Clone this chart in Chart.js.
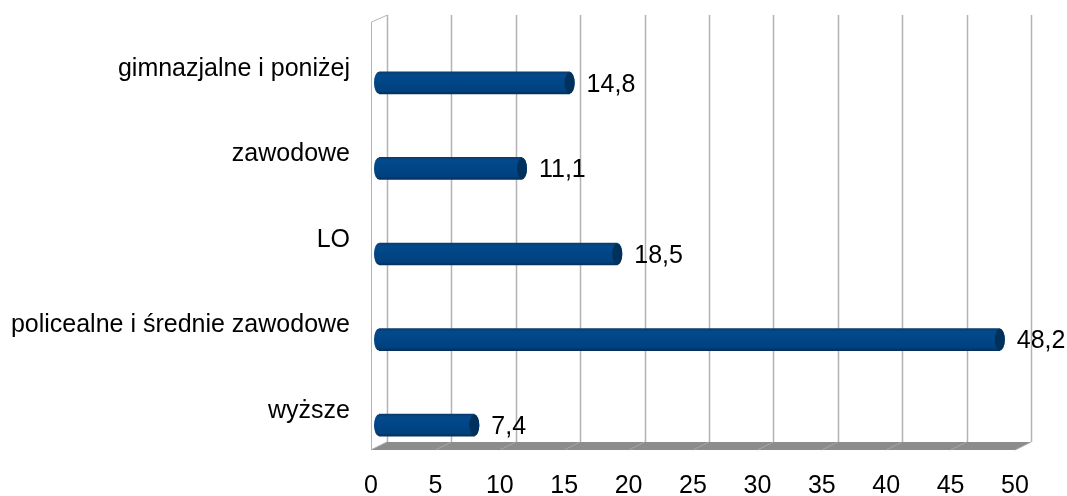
<!DOCTYPE html>
<html>
<head>
<meta charset="utf-8">
<script src="https://cdn.jsdelivr.net/npm/chart.js@4/dist/chart.umd.min.js"></script>
<style>
  html, body { margin: 0; padding: 0; background: #ffffff; }
  #wrap { width: 1067px; height: 496px; position: relative; }
</style>
</head>
<body>
<div id="wrap"><canvas id="c" width="1067" height="496"></canvas></div>
<script>
const categories = ['gimnazjalne i poniżej', 'zawodowe', 'LO', 'policealne i średnie zawodowe', 'wyższe'];
const values = [14.8, 11.1, 18.5, 48.2, 7.4];
const xTicks = [0, 5, 10, 15, 20, 25, 30, 35, 40, 45, 50];

const FONT = '"Liberation Sans", Arial, sans-serif';
const DEPTH = 8;      // half depth of pseudo-3D box (px)
const RISE = 7;       // vertical rise of back plane
const CAP = 5;        // horizontal radius of cylinder end caps

const fmt = v => String(v).replace('.', ',');

function barGradient(ctx, y, h) {
  const g = ctx.createLinearGradient(0, y - h, 0, y + h);
  g.addColorStop(0, '#0b3b6c');
  g.addColorStop(0.14, '#034a8c');
  g.addColorStop(0.5, '#004586');
  g.addColorStop(0.86, '#00417e');
  g.addColorStop(1, '#03305c');
  return g;
}

const backdrop = {
  id: 'backdrop',
  beforeDatasetsDraw(chart) {
    const ctx = chart.ctx;
    const xs = chart.scales.x;
    const top = 15, floorBack = 442, floorFront = 450;
    const x0 = xs.getPixelForValue(xTicks[0]);
    const xN = xs.getPixelForValue(xTicks[xTicks.length - 1]);
    ctx.save();
    // floor
    ctx.fillStyle = '#8c8c8c';
    ctx.beginPath();
    ctx.moveTo(x0 + DEPTH, floorBack);
    ctx.lineTo(xN + DEPTH, floorBack);
    ctx.lineTo(xN - DEPTH, floorFront);
    ctx.lineTo(x0 - DEPTH, floorFront);
    ctx.closePath();
    ctx.fill();
    // floor grid lines
    ctx.strokeStyle = '#a6a6a6';
    ctx.lineWidth = 1;
    xTicks.forEach(v => {
      const X = xs.getPixelForValue(v);
      ctx.beginPath();
      ctx.moveTo(X + DEPTH, floorBack);
      ctx.lineTo(X - DEPTH, floorFront);
      ctx.stroke();
    });
    // back wall grid lines
    ctx.strokeStyle = '#b3b3b3';
    ctx.lineWidth = 1.5;
    xTicks.forEach(v => {
      const X = Math.round(xs.getPixelForValue(v) + DEPTH) + 0.5;
      ctx.beginPath();
      ctx.moveTo(X, top);
      ctx.lineTo(X, floorBack);
      ctx.stroke();
    });
    // left side wall
    ctx.lineWidth = 1;
    ctx.strokeStyle = '#b3b3b3';
    ctx.beginPath();
    ctx.moveTo(Math.round(x0 - DEPTH) + 0.5, floorFront);
    ctx.lineTo(Math.round(x0 - DEPTH) + 0.5, top + RISE);
    ctx.lineTo(Math.round(x0 + DEPTH) + 0.5, top);
    ctx.stroke();
    ctx.restore();
  },
  afterDatasetsDraw(chart) {
    const ctx = chart.ctx;
    const meta = chart.getDatasetMeta(0);
    ctx.save();
    meta.data.forEach((el, i) => {
      const p = el.getProps(['x', 'y', 'base', 'height'], true);
      const h = p.height / 2;
      const gl = barGradient(ctx, p.y, h);
      // left rounded end
      ctx.fillStyle = gl;
      ctx.beginPath();
      ctx.ellipse(p.base, p.y, CAP, h, 0, Math.PI / 2, Math.PI * 1.5);
      ctx.closePath();
      ctx.fill();
      // right end cap
      ctx.beginPath();
      ctx.ellipse(p.x, p.y, CAP, h, 0, -Math.PI / 2, Math.PI / 2);
      ctx.closePath();
      ctx.fill();
      ctx.beginPath();
      ctx.ellipse(p.x, p.y, CAP, h - 0.5, 0, 0, Math.PI * 2);
      ctx.fillStyle = '#00305c';
      ctx.fill();
      // value label
      ctx.fillStyle = '#000000';
      ctx.font = '25px ' + FONT;
      ctx.textAlign = 'left';
      ctx.textBaseline = 'middle';
      ctx.fillText(fmt(values[i]), p.x + CAP + 12, p.y + 2);
    });
    ctx.restore();
  }
};

new Chart(document.getElementById('c'), {
  type: 'bar',
  data: {
    labels: categories,
    datasets: [{
      data: values,
      barThickness: 22,
      borderWidth: 0,
      backgroundColor: (c) => {
        const chart = c.chart;
        if (!chart.chartArea || !chart.scales.y) return '#004586';
        const y = chart.scales.y.getPixelForValue(c.dataIndex);
        return barGradient(chart.ctx, y, 11);
      }
    }]
  },
  options: {
    indexAxis: 'y',
    responsive: false,
    animation: false,
    devicePixelRatio: 1,
    layout: { padding: { top: 40, right: 44, left: 0, bottom: 0 } },
    plugins: {
      legend: { display: false },
      tooltip: { enabled: false }
    },
    scales: {
      x: {
        type: 'linear',
        min: 0,
        max: 50,
        afterBuildTicks: s => { s.ticks = xTicks.map(v => ({ value: v })); },
        afterFit: s => { s.height = 28; s.paddingLeft = 0; s.paddingRight = 0; },
        grid: { display: false, drawTicks: false },
        border: { display: false },
        ticks: {
          color: '#000000',
          font: { family: FONT, size: 25 },
          padding: 3,
          labelOffset: -DEPTH,
          maxRotation: 0,
          autoSkip: false
        }
      },
      y: {
        afterFit: s => { s.width = 379; s.paddingTop = 0; s.paddingBottom = 0; },
        grid: { display: false, drawTicks: false },
        border: { display: false },
        ticks: {
          color: '#000000',
          font: { family: FONT, size: 25 },
          padding: 29,
          labelOffset: -14,
          autoSkip: false
        }
      }
    }
  },
  plugins: [backdrop]
});
</script>
</body>
</html>
